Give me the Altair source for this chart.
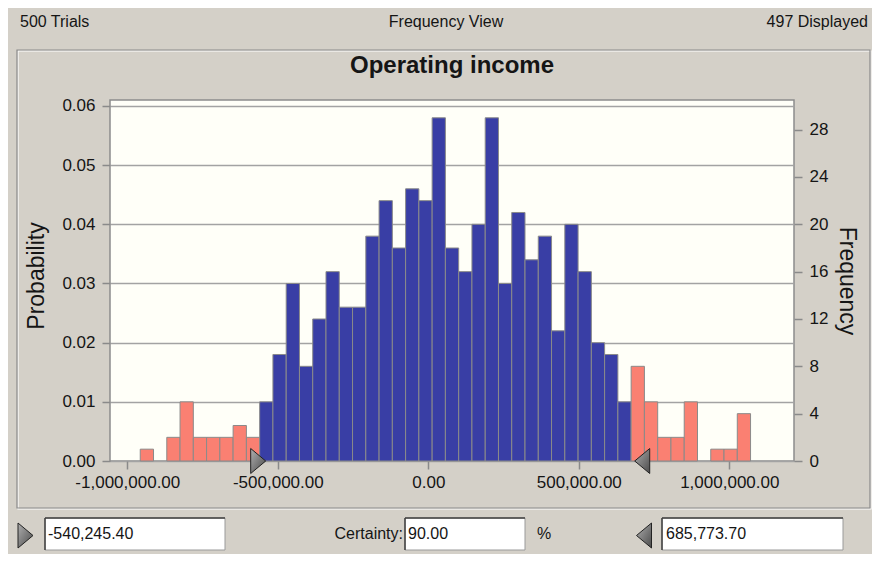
import altair as alt
import pandas as pd

# ---- data ----
trials = 500
bin_start = -957000
bin_width = 44080
counts = [1, 0, 2, 5, 2, 2, 2, 3, 2,
          5, 9, 15, 8, 12, 16, 13, 13, 19, 22, 18, 23, 22, 29, 18, 16, 20, 29,
          15, 21, 17, 19, 11, 20, 16, 10, 9, 5,
          8, 5, 2, 2, 5, 0, 1, 1, 4]
region = (["tail"] * 9) + (["certainty"] * 28) + (["tail"] * 9)
x_ticks = [-1000000, -500000, 0, 500000, 1000000]
prob_ticks = [0, 0.01, 0.02, 0.03, 0.04, 0.05, 0.06]
freq_ticks = [0, 4, 8, 12, 16, 20, 24, 28]
lower_cert = -540245.40
upper_cert = 685773.70
certainty = "90.00"

lo = [bin_start + i * bin_width for i in range(len(counts))]
df = pd.DataFrame({
    "lo": lo,
    "hi": [v + bin_width for v in lo],
    "count": counts,
    "prob": [c / trials for c in counts],
    "region": region,
})
one = pd.DataFrame({"k": [0]})

FONT = "Liberation Sans"
TXT = "#151515"
BLUE = "#393EA5"
SALMON = "#FA8072"

xscale = alt.Scale(domain=[-1057500, 1215000], nice=False, zero=False)
xaxis = alt.Axis(values=x_ticks, title=None, grid=False, domain=False,
                 tickSize=8, tickColor="#8a8a8a", tickWidth=1.5,
                 labelPadding=5, labelFontSize=17, labelFont=FONT, labelColor=TXT,
                 labelExpr="replace(format(datum.value, ',.2f'), '\u2212', '-')")

W, H = 684, 361


def txt(s, x, y, size=16, weight="normal", align="left", angle=0):
    return alt.Chart(one).mark_text(
        text=s, fontSize=size, fontWeight=weight, align=align,
        baseline="middle", angle=angle, font=FONT, color=TXT
    ).encode(x=alt.value(x), y=alt.value(y))


def box(x1, x2, y1, y2, fill="none", stroke="#808080", sw=1):
    return alt.Chart(one).mark_rect(fill=fill, stroke=stroke, strokeWidth=sw).encode(
        x=alt.value(x1), x2=alt.value(x2), y=alt.value(y1), y2=alt.value(y2))


def rule(x1, x2, y1, y2, color="#404040", sw=1.5):
    return alt.Chart(one).mark_rule(color=color, strokeWidth=sw).encode(
        x=alt.value(x1), x2=alt.value(x2), y=alt.value(y1), y2=alt.value(y2))


grad = alt.LinearGradient(gradient="linear", x1=0, x2=1, y1=0, y2=1,
                          stops=[alt.GradientStop(color="#b0b0b0", offset=0),
                                 alt.GradientStop(color="#4a4a4a", offset=1)])

RIGHT_TIP = "M-1.2,-1L0,0L-1.2,1Z"
LEFT_TIP = "M1.2,-1L0,0L1.2,1Z"
RIGHT_C = "M-0.6,-1L0.6,0L-0.6,1Z"
LEFT_C = "M0.6,-1L-0.6,0L0.6,1Z"


def tri(shape, x, y):
    return alt.Chart(one).mark_point(shape=shape, size=625, filled=True, fill=grad,
                                     stroke="#222222", strokeWidth=1, opacity=1).encode(
        x=alt.value(x), y=alt.value(y))


# panel border (etched)
panel_w = box(-92, 761, -49, 409, stroke="#ffffff", sw=1.2)
panel_g = box(-93, 760, -50, 408, stroke="#8a8a8a", sw=1.2)

bars = alt.Chart(df).transform_filter("datum.count > 0").mark_bar(
    stroke="#8a8a8a", strokeWidth=1
).encode(
    x=alt.X("lo:Q", scale=xscale, axis=xaxis),
    x2="hi:Q",
    y=alt.Y("prob:Q", scale=alt.Scale(domain=[0, 0.06101], nice=False, zero=True),
            axis=alt.Axis(orient="left", values=prob_ticks, format=".2f", title=None,
                          grid=True, gridColor="#a3a3a3", gridWidth=1.6, domain=False,
                          tickSize=8, tickColor="#8a8a8a", tickWidth=1.5,
                          labelPadding=7, labelFontSize=17, labelFont=FONT,
                          labelColor=TXT)),
    y2=alt.Y2Datum(0),
    color=alt.Color("region:N", scale=alt.Scale(domain=["tail", "certainty"],
                                                range=[SALMON, BLUE]), legend=None),
)

freq = alt.Chart(df).mark_bar(opacity=0).encode(
    x=alt.X("lo:Q", scale=xscale, axis=xaxis),
    x2="hi:Q",
    y=alt.Y("count:Q", scale=alt.Scale(domain=[0, 30.5], nice=False, zero=True),
            axis=alt.Axis(orient="right", values=freq_ticks, format="d", title=None,
                          grid=False, domain=False,
                          tickSize=8, tickColor="#8a8a8a", tickWidth=1.5,
                          labelPadding=7, labelFontSize=17, labelFont=FONT,
                          labelColor=TXT)),
    y2=alt.Y2Datum(0),
)

mk = pd.DataFrame({"v": [lower_cert]})
mk2 = pd.DataFrame({"v": [upper_cert]})
marker_lo = alt.Chart(mk).mark_point(shape=RIGHT_TIP, size=625, filled=True, fill=grad,
                                     stroke="#222222", strokeWidth=1, opacity=1).encode(
    x=alt.X("v:Q", scale=xscale, axis=xaxis), y=alt.value(H))
marker_hi = alt.Chart(mk2).mark_point(shape=LEFT_TIP, size=625, filled=True, fill=grad,
                                      stroke="#222222", strokeWidth=1, opacity=1).encode(
    x=alt.X("v:Q", scale=xscale, axis=xaxis), y=alt.value(H))

lower_txt = f"{lower_cert:,.2f}"
upper_txt = f"{upper_cert:,.2f}"

layers = [
    panel_w, panel_g,
    bars, freq, marker_lo, marker_hi,
    txt("500 Trials", -90, -78, 16),
    txt("Frequency View", 336, -78, 16, align="center"),
    txt("497 Displayed", 758, -78, 16, align="right"),
    txt("Operating income", 342, -34, 24, weight="bold", align="center"),
    txt("Probability", -73, 176, 23, align="center", angle=270),
    txt("Frequency", 737, 181, 23, align="center", angle=90),
    # bottom controls
    box(-65, 115, 418, 450, fill="#ffffff", stroke="#9a9a9a"),
    rule(-65, 115, 418, 418), rule(-65, -65, 418, 450),
    box(295, 415, 418, 450, fill="#ffffff", stroke="#9a9a9a"),
    rule(295, 415, 418, 418), rule(295, 295, 418, 450),
    box(552, 733, 418, 450, fill="#ffffff", stroke="#9a9a9a"),
    rule(552, 733, 418, 418), rule(552, 552, 418, 450),
    tri(RIGHT_C, -84.5, 435.5),
    tri(LEFT_C, 534, 435.5),
    txt(lower_txt, -62, 434, 16),
    txt("Certainty:", 293, 434, 16, align="right"),
    txt(certainty, 298, 434, 16),
    txt("%", 427, 434, 16),
    txt(upper_txt, 556, 434, 16),
]

chart = alt.layer(*layers).resolve_scale(y="independent").properties(
    width=W, height=H,
    autosize=alt.AutoSizeParams(type="none"),
    padding={"left": 102, "top": 92, "right": 78, "bottom": 93},
    background="#D4D0C8",
).configure_view(fill="#FFFFF8", stroke="#8c8c8c", strokeWidth=1.5)

chart.save("out.html", embed_options={"renderer": "svg", "actions": False})
